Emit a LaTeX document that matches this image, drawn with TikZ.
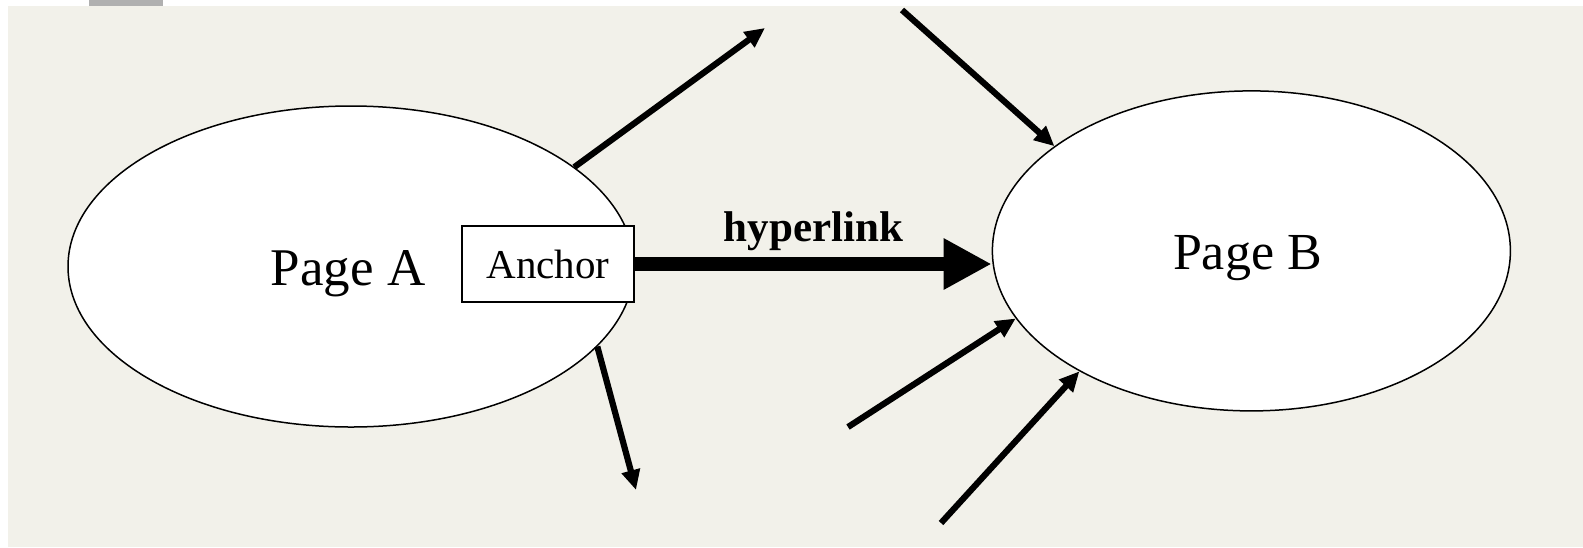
\documentclass[tikz,border=0pt]{standalone}
\usepackage{fontspec}
\setmainfont{Liberation Serif}
\usetikzlibrary{shapes.geometric,arrows.meta}
\definecolor{bgbeige}{HTML}{F2F1EA}
\definecolor{tabgray}{HTML}{B0B0B0}
\tikzset{
  page/.style={ellipse, draw=black, line width=0.75pt, fill=white, inner sep=0pt},
  pagetext/.style={inner sep=0pt},
  anchorbox/.style={draw=black, line width=1pt, fill=white, inner sep=0pt, minimum width=86pt, minimum height=38pt, font=\fontsize{20.5}{24}\selectfont},
  link/.style={line width=3.1pt, -{Triangle[length=10pt,width=9pt]}},
  biglink/.style={line width=7pt, -{Triangle[length=24pt,width=24pt]}}
}
\begin{document}
\begin{tikzpicture}[x=0.5pt,y=-0.5pt]
\useasboundingbox (0,0) rectangle (1583,547);
\fill[white] (0,0) rectangle (1583,547);
\fill[bgbeige] (8,6) rectangle (1583,547);
\fill[tabgray] (89,0) rectangle (163,6);
\node[page, minimum width=283pt, minimum height=160.5pt] (A) at (351,266.5) {};
\node[page, minimum width=259pt, minimum height=160pt] (B) at (1251.4,250.9) {};
\node[pagetext, font=\fontsize{26.5}{30}\selectfont] (labA) at ([xshift=-1.5pt,yshift=-3.5pt]A.center) {Page A};
\node[pagetext, font=\fontsize{26}{30}\selectfont] (labB) at ([xshift=-2pt,yshift=-3.5pt]B.center) {Page B};
\node[anchorbox] (anc) at (548,264) {Anchor};
\coordinate (e1) at (765,28);
\coordinate (s2) at (902,10);
\coordinate (e3) at (636,490);
\coordinate (s4) at (848,427);
\coordinate (s5) at (941,523);
\draw[link] (A.24) -- (e1);
\draw[link] (A.-18) -- (e3);
\draw[link] (s2) -- (B.152);
\draw[link] (s4) -- (B.196);
\draw[link] (s5) -- (B.215);
\draw[biglink] (anc.east) -- (anc.east -| B.west) node[midway, above=0pt, font=\bfseries\fontsize{21.5}{25}\selectfont] (hl) {hyperlink};
\end{tikzpicture}
\end{document}
